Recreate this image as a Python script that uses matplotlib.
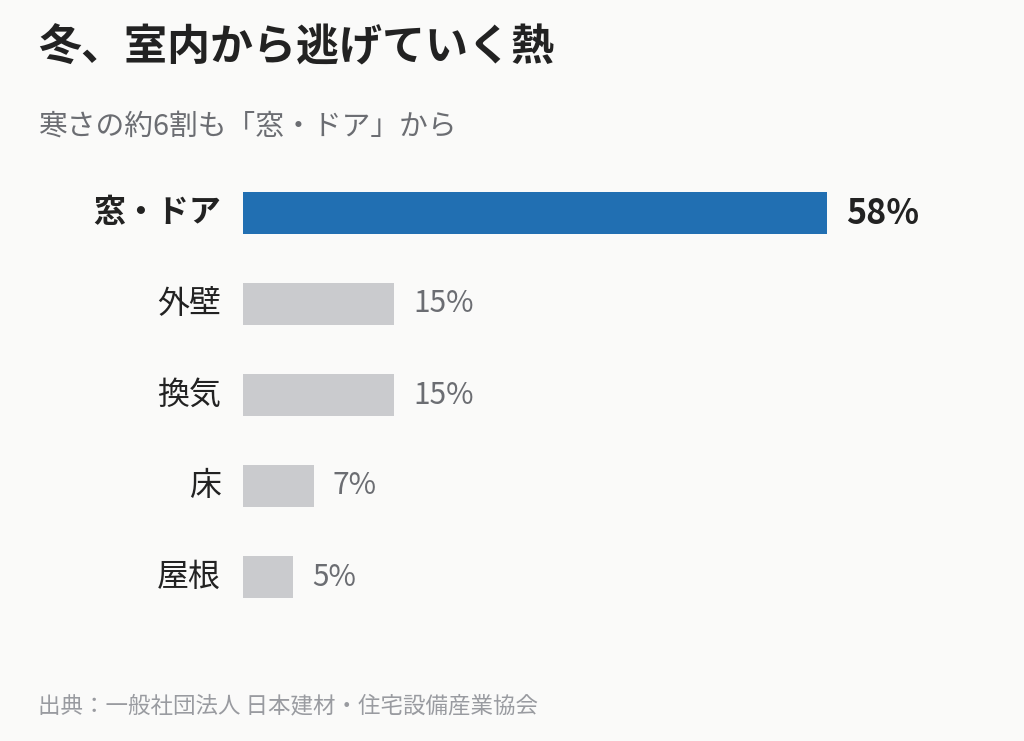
import matplotlib
matplotlib.use("Agg")
import matplotlib.pyplot as plt

plt.rcParams['font.family'] = ['Noto Sans CJK JP', 'DejaVu Sans']

# データ
categories = ['窓・ドア', '外壁', '換気', '床', '屋根']
values = [58, 15, 15, 7, 5]

title = '冬、室内から逃げていく熱'
subtitle = '寒さの約6割も「窓・ドア」から'
source = '出典：一般社団法人 日本建材・住宅設備産業協会'

bg = '#fafaf9'
blue = '#216fb2'
gray = '#cacbce'

fig = plt.figure(figsize=(10.24, 7.41), dpi=100, facecolor=bg)
ax = fig.add_axes([243 / 1024, 118.5 / 741, 705 / 1024, 455 / 741])
ax.set_facecolor(bg)

pos = list(range(len(categories)))
colors = [blue] + [gray] * (len(categories) - 1)
ax.barh(pos, values, height=0.47, color=colors)
ax.set_xlim(0, 70)
ax.set_ylim(len(categories) - 0.5, -0.5)
ax.axis('off')

for i, (cat, v) in enumerate(zip(categories, values)):
    top = (i == 0)
    ax.annotate(cat, xy=(0, i), xytext=(-22, 0), textcoords='offset pixels',
                ha='right', va='center', fontsize=23,
                fontweight='bold' if top else 'normal', color='#222222')
    ax.annotate(f'{v}%', xy=(v, i), xytext=(19, 0), textcoords='offset pixels',
                ha='left', va='center', fontsize=24.5 if top else 21.5,
                fontweight='bold' if top else 'normal',
                color='#222222' if top else '#6b6d72')

fig.text(38 / 1024, 1 - 47 / 741, title, fontsize=31, fontweight='bold',
         color='#222222', ha='left', va='center')
fig.text(38 / 1024, 1 - 127 / 741, subtitle, fontsize=20.7,
         color='#6b6d72', ha='left', va='center')
fig.text(38 / 1024, 1 - 706 / 741, source, fontsize=16.2,
         color='#999ba0', ha='left', va='center')

fig.savefig('out.png', dpi=100, facecolor=bg)
